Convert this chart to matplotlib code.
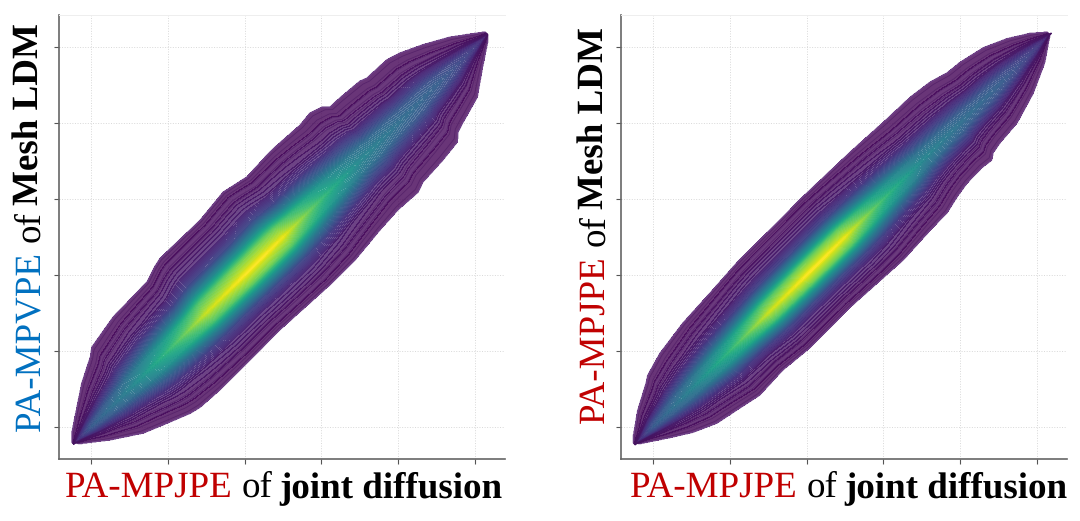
import numpy as np
import matplotlib
matplotlib.use("Agg")
import matplotlib.pyplot as plt

left_upper_x = [-.25,-.25,-.21,-.12,-.01,.01,.29,.73,.83,.90,1.42,1.72,2.03,2.33,2.46,2.72,2.85,3.01,3.11,3.24,3.50,3.59,3.85,4.02,4.32,4.67,5.13,5.17]
left_upper_y = [-.20,-.07,.13,.58,.92,1.05,1.45,1.91,2.11,2.22,2.72,3.09,3.29,3.62,3.74,3.97,4.13,4.21,4.21,4.33,4.55,4.59,4.83,4.92,5.03,5.13,5.20,5.16]
left_lower_x = [-.25,-.23,-.14,.25,.68,.99,1.29,1.42,1.68,1.94,2.46,3.11,3.44,3.76,4.00,4.26,4.32,4.58,4.77,4.78,4.84,5.03,5.10,5.17,5.17]
left_lower_y = [-.20,-.21,-.22,-.17,-.08,.05,.18,.26,.49,.75,1.28,1.87,2.20,2.59,2.86,3.09,3.22,3.51,3.75,3.88,4.00,4.34,4.74,5.09,5.16]

right_upper_x = [-.26,-.26,-.20,-.09,-.07,.09,.39,.74,1.09,1.59,1.91,2.57,2.79,3.0,3.35,3.61,3.83,4.0,4.30,4.61,4.91,5.17,5.17]
right_upper_y = [-.21,-.13,.22,.58,.68,.97,1.37,1.76,2.16,2.66,2.99,3.62,3.82,4.01,4.34,4.54,4.66,4.80,4.99,5.11,5.18,5.20,5.16]
right_lower_x = [-.26,-.17,.22,.52,.83,1.13,1.39,1.69,2.04,2.57,3.26,3.61,3.83,3.96,4.09,4.28,4.41,4.43,4.52,4.74,4.95,5.10,5.17]
right_lower_y = [-.21,-.22,-.14,-.07,.05,.25,.42,.75,1.04,1.58,2.20,2.59,2.82,3.03,3.21,3.41,3.51,3.61,3.74,4.0,4.39,4.79,5.16]

ridge_pos = [-.25,0,.5,1,1.5,2,2.25,2.5,3,3.5,4,4.5,5,5.2]
ridge_density = [.04,.28,.44,.66,.92,1.0,1.0,.97,.68,.46,.36,.30,.17,.05]
profile_pos = [0,.04,.17,.3,.45,.6,.8,1]
profile_frac = [1,.93,.78,.48,.21,.09,.03,0]

ticks = [0,1,2,3,4,5]
RED = "#C00000"; BLUE = "#0070C0"

plt.rcParams['font.family'] = ['Liberation Serif']
plt.rcParams['text.hinting'] = 'none'
plt.rcParams['text.hinting_factor'] = 1
fig = plt.figure(figsize=(10.8,5.21), dpi=100)
W,H = 1080,521
FS = 26.3

def text_width(s,w,r):
    probe=fig.text(0,0,"|"+s+"|",fontweight=w,fontsize=FS,alpha=0)
    a=probe.get_window_extent(r).width
    probe.set_text("||")
    b=probe.get_window_extent(r).width
    probe.remove()
    return a-b

def density(X,Y,ux,uy,lx,ly):
    U=(X+Y)/2; V=(Y-X)/2
    ux,uy,lx,ly=map(np.array,(ux,uy,lx,ly))
    uu=(ux+uy)/2; uv=(uy-ux)/2
    lu=(lx+ly)/2; lv=(ly-lx)/2
    eu=np.interp(U,uu,uv); el=np.interp(U,lu,lv)
    e=np.where(V>=0,np.maximum(eu,1e-3),np.maximum(-el,1e-3))
    r=np.abs(V)/e
    P=np.interp(U,ridge_pos,ridge_density)
    Z=P*np.interp(r,profile_pos,profile_frac)
    Z=np.where(r>1,-(r-1),Z)
    Z=np.where((U<uu.min())|(U>uu.max()),-1,Z)
    return Z

def panel(x0,ux,uy,lx,ly,ycolor,ytext,xstart,ybase_x,ystart):
    ax=fig.add_axes([x0/W,1-459/H,446/W,444/H])
    ax.set_xlim(-.417,5.39); ax.set_ylim(-.42,5.42)
    ax.set_xticks(ticks); ax.set_yticks(ticks)
    ax.set_xticklabels([]); ax.set_yticklabels([])
    ax.grid(True,color="#d8d8d8",lw=.7,ls=":")
    ax.set_axisbelow(True)
    ax.tick_params(length=3.5,width=.8,color="#555555")
    for s in ("left","bottom"):
        ax.spines[s].set_color("#666666"); ax.spines[s].set_linewidth(1.2)
    ax.spines["right"].set_visible(False)
    ax.spines["top"].set_color("#eeeeee"); ax.spines["top"].set_linewidth(.7)
    g=np.linspace(-.4,5.4,760)
    X,Y=np.meshgrid(g,g)
    Z=density(X,Y,ux,uy,lx,ly)
    ax.contourf(X,Y,Z,levels=np.linspace(0,1.02,70),cmap="viridis",alpha=.8,vmin=0,vmax=1,zorder=2)
    ax.contour(X,Y,Z,levels=[0],colors="#6f4288",linewidths=1.0,zorder=3)
    ax.contour(X,Y,Z,levels=[.004,.01,.017,.025,.034,.045,.06,.075],colors="#45135f",linewidths=.6,alpha=.5,zorder=3)
    r=fig.canvas.get_renderer()
    px=xstart
    for s,c,w,k in (("PA-MPJPE ",RED,"normal",0),("of ","black","normal",3),("joint diffusion","black","bold",0)):
        fig.text(px/W,1-497/H,s.rstrip(),color=c,fontweight=w,fontsize=FS,ha="left",va="baseline")
        px+=text_width(s,w,r)-k
    py=ystart
    for s,c,w,k in ((ytext+" ",ycolor,"normal",0),("of ","black","normal",3),("Mesh LDM","black","bold",0)):
        fig.text(ybase_x/W,1-py/H,s.rstrip(),color=c,fontweight=w,fontsize=FS,rotation=90,ha="left",va="baseline",rotation_mode="anchor")
        py-=text_width(s,w,r)-k

panel(59,left_upper_x,left_upper_y,left_lower_x,left_lower_y,BLUE,"PA-MPVPE",65,39,431)
panel(621,right_upper_x,right_upper_y,right_lower_x,right_lower_y,RED,"PA-MPJPE",630,604,423)
fig.savefig("out.png",dpi=100)
